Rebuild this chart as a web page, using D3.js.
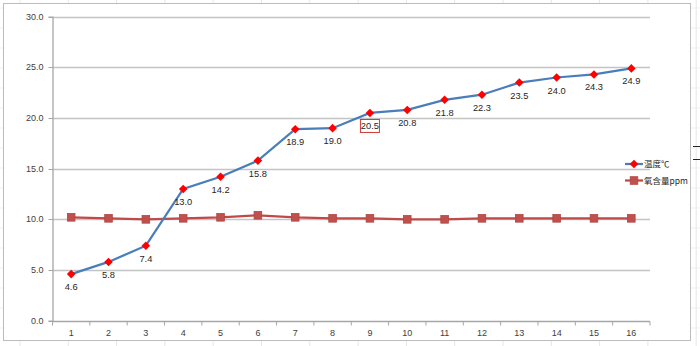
<!DOCTYPE html>
<html><head><meta charset="utf-8">
<script src="https://cdn.jsdelivr.net/npm/d3@7"></script>
<style>html,body{margin:0;padding:0;background:#fff;}svg{display:block;}</style>
</head><body><svg id="c" width="700" height="346"></svg>
<script>
const categories = ["1","2","3","4","5","6","7","8","9","10","11","12","13","14","15","16"];
const tempValues = [4.6,5.8,7.4,13.0,14.2,15.8,18.9,19.0,20.5,20.8,21.8,22.3,23.5,24.0,24.3,24.9];
const oxygenValues = [10.2,10.1,10.0,10.1,10.2,10.4,10.2,10.1,10.1,10.0,10.0,10.1,10.1,10.1,10.1,10.1];
const yTicks = [0,5,10,15,20,25,30];
const seriesNames = ["温度℃","氧含量ppm"];
const highlightIndex = 8;

const svg = d3.select("#c");
const W = 700, H = 346;
const font = "'Liberation Sans', Arial, sans-serif";

// spreadsheet background grid
const bg = svg.append("g");
for (let x = 20; x < W; x += 48.3) bg.append("line").attr("x1", x).attr("x2", x).attr("y1", 0).attr("y2", H).attr("stroke", "#e6e6e6");
for (let y = 8; y < H; y += 20) bg.append("line").attr("x1", 0).attr("x2", W).attr("y1", y).attr("y2", y).attr("stroke", "#efefef");
// chart area
svg.append("rect").attr("x", 3.5).attr("y", 3.5).attr("width", 687).attr("height", 337).attr("fill", "#fff").attr("stroke", "#bcbcbc");
svg.append("line").attr("x1", 693).attr("x2", 700).attr("y1", 146.5).attr("y2", 146.5).attr("stroke", "#222");
svg.append("line").attr("x1", 693).attr("x2", 700).attr("y1", 159.5).attr("y2", 159.5).attr("stroke", "#222");

const x = d3.scaleBand().domain(categories).range([52.5, 650]).padding(0);
const y = d3.scaleLinear().domain([0, 30]).range([320.7, 16.7]);

// gridlines
svg.append("g").selectAll("line").data(yTicks.slice(1)).join("line")
  .attr("x1", 52.5).attr("x2", 650)
  .attr("y1", d => Math.round(y(d)) + 0.5).attr("y2", d => Math.round(y(d)) + 0.5)
  .attr("stroke", "#c4c4c4").attr("stroke-width", 1.3);

// y axis
const yAxis = svg.append("g").attr("transform", "translate(52.5,0)")
  .call(d3.axisLeft(y).tickValues(yTicks).tickFormat(d3.format(".1f")).tickSize(4).tickPadding(5));
yAxis.select(".domain").attr("stroke", "#a6a6a6").attr("stroke-width", 1.3);
yAxis.selectAll(".tick line").attr("stroke", "#a6a6a6");
yAxis.selectAll(".tick").attr("transform", d => `translate(0,${Math.round(y(d)) + 0.5})`);
yAxis.selectAll("text").attr("font-family", font).attr("font-size", 9).attr("fill", "#404040");

// x axis
const xAxisG = svg.append("g").attr("transform", `translate(0,${Math.round(y(0)) + 0.5})`);
xAxisG.append("line").attr("x1", 52.5).attr("x2", 650).attr("stroke", "#a6a6a6").attr("stroke-width", 1.3);
const bounds = categories.map(c => x(c)).concat([x(categories[categories.length - 1]) + x.bandwidth()]);
xAxisG.selectAll("line.t").data(bounds).join("line").attr("class", "t")
  .attr("x1", d => d).attr("x2", d => d).attr("y1", 0).attr("y2", 4).attr("stroke", "#a6a6a6");
xAxisG.selectAll("text").data(categories).join("text")
  .attr("x", d => x(d) + x.bandwidth() / 2).attr("y", 14.5)
  .attr("text-anchor", "middle").attr("font-family", font).attr("font-size", 9).attr("fill", "#404040")
  .text(d => d);

const cx = (d, i) => x(categories[i]) + x.bandwidth() / 2;

// oxygen series
const oxColor = "#BE4B48";
svg.append("path").datum(oxygenValues)
  .attr("d", d3.line().x(cx).y(d => y(d)))
  .attr("fill", "none").attr("stroke", oxColor).attr("stroke-width", 2.25);
svg.append("g").selectAll("rect").data(oxygenValues).join("rect")
  .attr("x", (d, i) => cx(d, i) - 3.8).attr("y", d => y(d) - 3.8)
  .attr("width", 7.6).attr("height", 7.6)
  .attr("fill", "#C0504D").attr("stroke", "#B04541").attr("stroke-width", 0.8);

// temperature series
const tColor = "#4A7EBB";
svg.append("path").datum(tempValues)
  .attr("d", d3.line().x(cx).y(d => y(d)))
  .attr("fill", "none").attr("stroke", tColor).attr("stroke-width", 2.25);
const diamond = "M0,-4.3L4.3,0L0,4.3L-4.3,0Z";
svg.append("g").selectAll("path").data(tempValues).join("path")
  .attr("d", diamond)
  .attr("transform", (d, i) => `translate(${cx(d, i)},${y(d)})`)
  .attr("fill", "#FF0000");

// data labels
svg.append("g").selectAll("text").data(tempValues).join("text")
  .attr("x", (d, i) => cx(d, i)).attr("y", d => y(d) + 16)
  .attr("text-anchor", "middle").attr("font-family", font).attr("font-size", 9.3).attr("fill", "#262626")
  .text(d => d3.format(".1f")(d));
const hl = tempValues[highlightIndex];
svg.append("rect")
  .attr("x", cx(hl, highlightIndex) - 9.5).attr("y", y(hl) + 6.5)
  .attr("width", 19).attr("height", 13)
  .attr("fill", "none").attr("stroke", "#D03A3A").attr("stroke-width", 1);

// legend
const legend = svg.append("g");
const legendY = [164, 180.5];
legend.append("line").attr("x1", 625).attr("x2", 643).attr("y1", legendY[0]).attr("y2", legendY[0]).attr("stroke", tColor).attr("stroke-width", 2.25);
legend.append("path").attr("d", diamond).attr("transform", `translate(634,${legendY[0]})`).attr("fill", "#FF0000");
legend.append("line").attr("x1", 625).attr("x2", 643).attr("y1", legendY[1]).attr("y2", legendY[1]).attr("stroke", oxColor).attr("stroke-width", 2.25);
legend.append("rect").attr("x", 630.2).attr("y", legendY[1] - 3.8).attr("width", 7.6).attr("height", 7.6).attr("fill", "#C0504D").attr("stroke", "#B04541").attr("stroke-width", 0.8);
legend.selectAll("text").data(seriesNames).join("text")
  .attr("x", 644).attr("y", (d, i) => legendY[i] + 3.3)
  .attr("font-family", "'Noto Sans CJK SC', sans-serif").attr("font-size", 8.5).attr("fill", "#262626")
  .text(d => d);
</script></body></html>
